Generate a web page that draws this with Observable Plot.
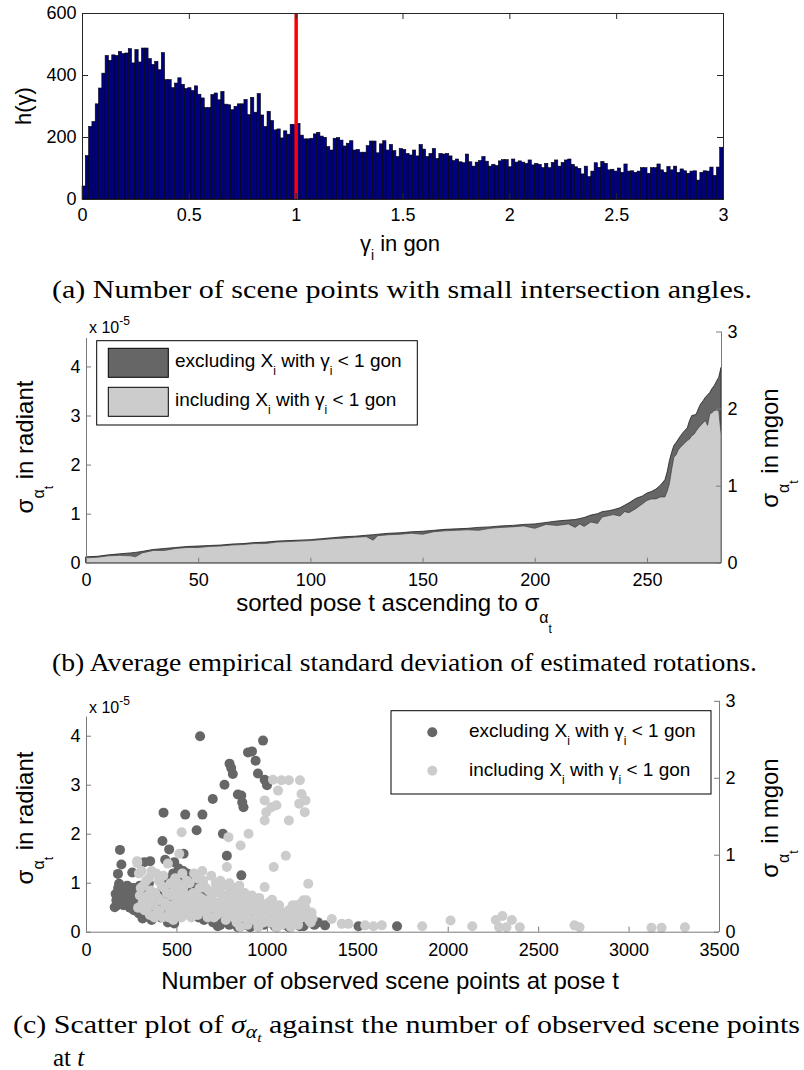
<!DOCTYPE html>
<html><head><meta charset="utf-8">
<script src="https://cdn.jsdelivr.net/npm/d3@7"></script>
<script src="https://cdn.jsdelivr.net/npm/@observablehq/plot@0.6"></script>
<style>
body{margin:0;background:#fff;}
#page{position:relative;width:804px;height:1070px;overflow:hidden;background:#fff;}
.panel{position:absolute;left:0;}
#overlay{position:absolute;left:0;top:0;pointer-events:none;}
text{white-space:pre;}
</style></head><body><div id="page"></div>
<script>
// ---------------- Panel (a): histogram of intersection angles ----------------
const histCounts = [
42,140,234,250,307,358,406,463,447,465,463,476,469,471,485,439,482,442,487,487,
453,434,444,417,472,385,385,359,374,391,370,356,359,350,365,338,326,295,295,337,
342,320,347,306,304,288,299,307,307,321,272,328,280,340,271,234,283,
253,223,226,197,220,209,241,240,244,206,194,194,196,210,215,203,199,169,158,196,
198,190,171,180,188,158,160,151,151,172,187,187,149,178,188,158,176,156,137,163,
160,147,142,158,139,176,161,137,147,163,131,147,145,147,139,124,129,120,
117,145,120,106,119,124,137,122,106,112,108,123,127,127,104,129,119,123,119,115,
126,110,115,112,101,115,101,118,126,106,118,126,129,112,104,99,81,106,72,90,
117,102,121,115,94,96,90,100,86,113,90,91,86,90,101,101,83,101,101,113,
94,86,105,94,106,86,97,91,83,90,91,61,86,91,90,103,76,103,167
];
const histDomain = [0, 3];
const gammaLimit = [1];
const aXTicks = [0, 0.5, 1, 1.5, 2, 2.5, 3];
const aYTicks = [0, 200, 400, 600];

// ---------------- Panel (b): sorted sigma per pose (units 1e-5 rad) ----------------
const bExcl = [[0,0.12],[5,0.13],[10,0.16],[15,0.18],[20,0.2],[22,0.21],[25,0.23],[30,0.27],[35,0.29],[40,0.31],
[45,0.33],[50,0.34],[55,0.35],[60,0.36],[65,0.38],[70,0.39],[75,0.41],[80,0.42],[85,0.44],[90,0.45],
[95,0.46],[100,0.47],[105,0.49],[110,0.51],[115,0.53],[120,0.54],[125,0.56],[128,0.57],[130,0.58],[135,0.6],
[140,0.61],[145,0.63],[150,0.64],[155,0.66],[160,0.68],[165,0.69],[170,0.7],[175,0.72],[180,0.73],[185,0.75],
[190,0.76],[195,0.78],[200,0.79],[205,0.82],[210,0.85],[215,0.87],[218,0.88],[220,0.9],[222,0.92],[225,0.97],
[228,1.0],[230,1.04],[233,1.06],[235,1.08],[238,1.12],[240,1.17],[242,1.22],[245,1.31],[248,1.36],[250,1.42],
[252,1.45],[254,1.5],[256,1.58],[258,1.69],[259,1.85],[260,2.08],[261,2.25],[262,2.39],[263,2.45],[264,2.52],
[265,2.59],[266,2.65],[267,2.7],[268,2.75],[269,2.9],[270,3.0],[271,3.01],[272,3.03],[273,3.15],[274,3.24],
[275,3.3],[276,3.37],[277,3.42],[278,3.47],[279,3.55],[280,3.61],[281,3.7],[282,3.78],[283,3.98]];
const bIncl = [[0,0.1],[5,0.11],[10,0.14],[15,0.15],[20,0.14],[22,0.12],[25,0.2],[30,0.25],[35,0.25],[40,0.29],
[45,0.31],[50,0.31],[55,0.33],[60,0.34],[65,0.36],[70,0.37],[75,0.39],[80,0.39],[85,0.42],[90,0.43],
[95,0.44],[100,0.45],[105,0.47],[110,0.49],[115,0.5],[120,0.52],[125,0.53],[128,0.46],[130,0.55],[135,0.57],
[140,0.58],[145,0.6],[150,0.58],[155,0.63],[160,0.65],[165,0.66],[170,0.67],[175,0.66],[180,0.7],[185,0.72],
[190,0.73],[195,0.75],[200,0.7],[205,0.78],[210,0.76],[215,0.79],[218,0.72],[220,0.79],[222,0.74],[225,0.83],
[228,0.8],[230,0.93],[233,0.96],[235,0.98],[238,0.95],[240,1.04],[242,1.02],[245,1.1],[248,1.2],[250,1.27],
[252,1.3],[254,1.3],[256,1.34],[258,1.34],[259,1.45],[260,1.61],[261,1.9],[262,2.15],[263,2.2],[264,2.3],
[265,2.36],[266,2.4],[267,2.45],[268,2.49],[269,2.52],[270,2.59],[271,2.62],[272,2.69],[273,2.75],[274,2.8],
[275,2.85],[276,2.9],[277,2.8],[278,3.03],[279,3.06],[280,3.1],[281,3.11],[282,3.1],[283,2.63]];
const bXDomain = [0, 283];
const bXTicks = [0, 50, 100, 150, 200, 250];
const radTicks = [0, 1, 2, 3, 4];
const mgonTicks = [0, 1, 2, 3];
const radPerMgon = Math.PI / 2; // 1 mgon expressed in units of 1e-5 rad
const bLeftAxisTop = 4.58;

// ---------------- Panel (c): scatter sigma vs number of observed points ----------------
const cExcl = [
[628,4.0],[976,3.91],[893,3.67],[915,3.69],[935,3.5],[948,3.24],[985,3.11],[998,3.0],[791,3.44],[800,3.35],
[809,3.23],[763,3.01],[837,2.81],[856,2.79],[861,2.65],[868,2.55],[698,2.72],[426,2.44],[546,2.4],[641,2.4],
[609,2.08],[754,2.01],[420,1.86],[457,1.69],[435,1.48],[485,1.43],[776,1.56],[856,1.16],[185,1.68],[193,1.38],
[174,1.19],[180,0.99],[161,0.78],[156,0.51],[253,1.22],[319,1.43],[352,1.45],[537,1.6],[559,1.19],[587,1.05],
[624,0.95],[319,0.31],[485,0.18],[726,0.12],[837,0.1],[1041,0.12],[1319,0.14],[1504,0.12],[1717,0.12],
[170,0.55],[175,0.9],[190,0.85],[195,0.65],[200,0.72],[210,0.6],[220,0.8],[230,0.7],[240,0.5],[250,0.9],
[262,0.45],[270,0.75],[280,0.55],[290,0.38],[300,0.65],[310,0.28],[320,0.85],[330,0.32],[340,0.6],[350,0.45],
[360,0.25],[380,0.4],[400,0.5],[410,0.3],[420,0.7],[430,1.0],[440,0.5],[450,0.2],[460,0.65],[470,0.35],
[480,1.2],[490,0.9],[510,1.3],[520,0.5],[530,0.4],[555,1.2],[560,0.8],[570,1.1],[580,0.6],[590,1.0],
[600,0.9],[610,0.5],[620,0.3],[630,0.7],[640,0.45],[650,0.25],[660,0.55],[670,0.35],[700,0.2],[720,0.4],
[740,0.15],[760,0.5],[780,0.3],[800,0.2],[820,0.6],[870,0.45],[900,0.35],[920,0.2],[950,0.3],[980,0.15],
[1000,0.45],[1020,0.3],[1050,0.1],[1080,0.2],[1100,0.15],[1150,0.25],[1180,0.12],[1220,0.2],[1260,0.15],
[165,0.65],[178,0.6],[185,0.7],[200,0.9],[205,0.55],[215,0.75],[225,0.95],[235,0.6],[245,0.8],[255,0.7],
[265,0.9],[275,0.65],[285,0.45],[295,0.95],[305,0.55],[325,0.4],[335,0.75],[345,1.0],[355,0.3],[365,0.55],
[375,0.45],[385,0.6],[395,0.35],[405,0.8],[415,1.05],[425,0.5],[445,0.95],[455,0.75],[465,1.1],[475,0.6],
[495,0.45],[505,1.15],[515,0.95],[525,1.0],[535,1.25],[545,0.7],[565,0.95],[575,0.85],[585,1.05],[595,0.75],
[605,0.95],[615,0.85],[625,0.6],[645,0.8],[665,0.5],[685,0.35],[705,0.45],[735,0.25],[755,0.35],[790,0.15],
[810,0.35],[840,0.1],[860,0.25],[880,0.15],[905,0.1],[930,0.4],[960,0.15],[990,0.35],[1010,0.2],[1060,0.3],
[1120,0.1],[1200,0.12],[1240,0.2],[1280,0.2]
];
const cIncl = [
[1031,3.11],[1078,3.1],[1119,3.1],[1180,3.1],[1059,2.89],[1189,2.82],[985,2.69],[985,2.28],[994,2.45],[1022,2.55],
[1050,2.59],[1176,2.62],[1211,2.69],[1207,2.45],[1119,2.28],[526,2.04],[785,1.94],[896,2.01],[852,1.77],[1102,1.56],
[1035,1.33],[985,0.92],[1226,0.99],[1026,0.66],[776,1.33],[513,1.6],[281,1.41],
[1356,0.27],[1411,0.17],[1448,0.17],[1541,0.14],[1587,0.12],[1633,0.14],[1856,0.12],[2013,0.24],[2133,0.12],
[2263,0.25],[2300,0.33],[2352,0.25],[2281,0.1],[2322,0.1],[2396,0.1],[2698,0.14],[2726,0.1],[3124,0.09],
[3180,0.09],[3309,0.1],
[280,1.45],[290,1.2],[300,0.9],[310,0.6],[320,0.45],[330,1.05],[340,0.75],[350,0.35],[360,1.25],[370,0.55],
[380,0.8],[390,0.4],[400,1.05],[410,0.65],[420,0.3],[430,0.9],[440,0.55],[450,1.4],[460,0.4],[470,0.75],
[480,0.25],[490,1.1],[500,0.6],[510,0.45],[520,0.85],[530,1.2],[540,0.35],[550,0.7],[560,0.5],[570,1.0],
[580,0.3],[590,0.8],[600,0.55],[610,1.1],[620,0.4],[630,0.7],[640,1.25],[650,0.45],[660,0.9],[670,0.3],
[680,0.65],[690,1.15],[700,0.5],[710,0.85],[720,0.35],[730,0.6],[740,1.05],[750,0.4],[760,0.75],[770,0.25],
[780,0.55],[790,1.0],[800,0.35],[810,0.65],[820,0.9],[830,0.2],[840,0.55],[850,0.75],[860,0.3],[870,0.5],
[880,0.65],[890,0.15],[900,0.45],[920,0.6],[940,0.3],[960,0.5],[980,0.2],[1000,0.4],[1020,0.55],[1040,0.25],
[1060,0.35],[1080,0.15],[1100,0.3],[1120,0.45],[1140,0.55],[1160,0.25],[1180,0.4],[1200,0.65],[1220,0.35],[1240,0.2],
[1250,0.28],[1130,0.1],[1050,0.1],[950,0.1],[850,0.1],
[285,0.5],[295,0.75],[305,1.25],[315,0.95],[325,0.65],[335,0.5],[345,1.1],[355,0.85],[365,0.6],[375,0.3],
[385,1.2],[395,0.7],[405,0.45],[415,0.95],[425,1.15],[435,0.6],[445,0.8],[455,0.3],[465,1.0],[475,0.55],
[485,0.85],[495,0.35],[505,1.0],[515,0.7],[525,0.3],[535,0.9],[545,0.55],[555,1.05],[565,0.75],[575,0.4],
[585,0.6],[595,1.2],[605,0.75],[615,0.35],[625,0.9],[635,0.55],[645,1.05],[655,0.65],[665,0.4],[675,0.85],
[685,0.55],[695,0.75],[705,0.3],[715,1.0],[725,0.5],[735,0.8],[745,0.6],[755,0.95],[765,0.45],[775,0.7],
[785,0.4],[795,0.85],[805,0.5],[815,0.3],[825,0.7],[835,0.45],[845,0.95],[855,0.6],[865,0.4],[875,0.8],
[885,0.35],[895,0.6],[905,0.25],[915,0.75],[925,0.45],[935,0.55],[945,0.2],[955,0.7],[965,0.35],[975,0.55],
[990,0.3],[1005,0.6],[1015,0.2],[1030,0.45],[1045,0.3],[1065,0.55],[1075,0.25],[1090,0.4],[1110,0.2],[1135,0.35],
[1150,0.45],[1170,0.15],[1190,0.3],[1210,0.5],[1230,0.25],[1245,0.4],[1190,0.6],[1215,0.65],[1160,0.55]
];
const cXDomain = [0, 3500];
const cXTicks = [0, 500, 1000, 1500, 2000, 2500, 3000, 3500];
const cLeftAxisTop = 4.39;

// ---------------- styling ----------------
const W = 804;
const sans = '"Liberation Sans", Arial, Helvetica, sans-serif';
const serif = '"Liberation Serif", "DejaVu Serif", serif';
const navy = "#000083";
const darkGray = "#666666";
const lightGray = "#cccccc";
const axisGray = "#7a7a7a";
const frameCol = "#262626";
const legendLabelsExcl = ["excluding X", "i", " with ", "\u03B3", "i", " < 1 gon"];
const legendLabelsIncl = ["including X", "i", " with ", "\u03B3", "i", " < 1 gon"];
const plain = d => String(d);

const page = document.getElementById("page");
function place(svg, top) {
  const d = document.createElement("div");
  d.className = "panel"; d.style.top = top + "px";
  d.appendChild(svg); page.appendChild(d);
}

// ---------- Panel A ----------
const aH = 265, aTop = 0, aM = {t: 13, b: 66, l: 82, r: 81};
const aPH = aH - aM.t - aM.b, aPW = W - aM.l - aM.r;
const binW = (histDomain[1] - histDomain[0]) / histCounts.length;
const bins = histCounts.map((c, i) => ({x1: histDomain[0] + i * binW, x2: histDomain[0] + (i + 1) * binW, count: c}));
const plotA = Plot.plot({
  width: W, height: aH, marginTop: aM.t, marginBottom: aM.b, marginLeft: aM.l, marginRight: aM.r,
  style: {fontFamily: sans, fontSize: "18px", color: "#000", background: "transparent"},
  x: {domain: histDomain}, y: {domain: [0, 600]},
  marks: [
    Plot.rectY(bins, {x1: "x1", x2: "x2", y1: 0, y2: "count", fill: navy, stroke: "#000", strokeWidth: 0.6, inset: 0}),
    Plot.ruleX(gammaLimit, {stroke: "#ff0000", strokeWidth: 3.5}),
    Plot.frame({stroke: frameCol}),
    Plot.tickX(aXTicks, {x: d => d, insetTop: aPH - 6, stroke: frameCol}),
    Plot.tickX(aXTicks, {x: d => d, insetBottom: aPH - 6, stroke: frameCol}),
    Plot.tickY(aYTicks, {y: d => d, insetRight: aPW - 6, stroke: frameCol}),
    Plot.tickY(aYTicks, {y: d => d, insetLeft: aPW - 6, stroke: frameCol}),
    Plot.axisX({ticks: aXTicks, tickSize: 0, tickPadding: 9, label: null, fontSize: 18, tickFormat: plain}),
    Plot.axisY({ticks: aYTicks, tickSize: 0, tickPadding: 6, label: null, fontSize: 18, tickFormat: plain})
  ]
});
place(plotA, aTop);

// ---------- Panel B ----------
const bTop = 305, bH = 340, bM = {t: 26.5, b: 82.3, l: 86, r: 83};
const bPH = bH - bM.t - bM.b, bPW = W - bM.l - bM.r;
const yMaxRad = 3 * radPerMgon;
const mgonPos = mgonTicks.map(m => m * radPerMgon);
const mgonFmt = d => String(Math.round(d / radPerMgon));
const plotB = Plot.plot({
  width: W, height: bH, marginTop: bM.t, marginBottom: bM.b, marginLeft: bM.l, marginRight: bM.r,
  style: {fontFamily: sans, fontSize: "18px", color: "#000", background: "transparent"},
  x: {domain: bXDomain}, y: {domain: [0, yMaxRad]},
  marks: [
    Plot.areaY(bExcl, {x: d => d[0], y: d => d[1], fill: darkGray, stroke: "#1e1e1e", strokeWidth: 0.8}),
    Plot.areaY(bIncl, {x: d => d[0], y: d => d[1], fill: lightGray, stroke: "#333", strokeWidth: 0.6}),
    Plot.ruleY([0], {stroke: axisGray}),
    Plot.ruleX([bXDomain[0]], {y1: 0, y2: bLeftAxisTop, stroke: axisGray}),
    Plot.ruleX([bXDomain[1]], {y1: 0, y2: yMaxRad, stroke: axisGray}),
    Plot.tickX(bXTicks, {x: d => d, insetTop: bPH - 5, stroke: axisGray}),
    Plot.tickY(radTicks, {y: d => d, insetRight: bPW - 5, stroke: axisGray}),
    Plot.tickY(mgonPos, {y: d => d, insetLeft: bPW - 5, stroke: axisGray}),
    Plot.axisX({ticks: bXTicks, tickSize: 0, tickPadding: 10, label: null, fontSize: 18, tickFormat: plain}),
    Plot.axisY({ticks: radTicks, tickSize: 0, tickPadding: 6, label: null, fontSize: 18, tickFormat: plain}),
    Plot.axisY({anchor: "right", ticks: mgonPos, tickFormat: mgonFmt, tickSize: 0, tickPadding: 6, label: null, fontSize: 18})
  ]
});
place(plotB, bTop);

// ---------- Panel C ----------
const cTop = 680, cH = 330, cM = {t: 20.8, b: 78.3, l: 86, r: 85};
const cPH = cH - cM.t - cM.b, cPW = W - cM.l - cM.r;
const plotC = Plot.plot({
  width: W, height: cH, marginTop: cM.t, marginBottom: cM.b, marginLeft: cM.l, marginRight: cM.r,
  style: {fontFamily: sans, fontSize: "18px", color: "#000", background: "transparent"},
  x: {domain: cXDomain}, y: {domain: [0, yMaxRad]},
  marks: [
    Plot.dot(cExcl, {x: d => d[0], y: d => d[1], r: 5, fill: darkGray}),
    Plot.dot(cIncl, {x: d => d[0], y: d => d[1], r: 5, fill: lightGray}),
    Plot.ruleY([0], {stroke: axisGray}),
    Plot.ruleX([cXDomain[0]], {y1: 0, y2: cLeftAxisTop, stroke: axisGray}),
    Plot.ruleX([cXDomain[1]], {y1: 0, y2: yMaxRad, stroke: axisGray}),
    Plot.tickX(cXTicks, {x: d => d, insetTop: cPH - 5, stroke: axisGray}),
    Plot.tickY(radTicks, {y: d => d, insetRight: cPW - 5, stroke: axisGray}),
    Plot.tickY(mgonPos, {y: d => d, insetLeft: cPW - 5, stroke: axisGray}),
    Plot.axisX({ticks: cXTicks, tickSize: 0, tickPadding: 11, label: null, fontSize: 18, tickFormat: plain}),
    Plot.axisY({ticks: radTicks, tickSize: 0, tickPadding: 6, label: null, fontSize: 18, tickFormat: plain}),
    Plot.axisY({anchor: "right", ticks: mgonPos, tickFormat: mgonFmt, tickSize: 0, tickPadding: 6, label: null, fontSize: 18})
  ]
});
place(plotC, cTop);

// ---------- overlay: labels, legends, captions ----------
const NS = "http://www.w3.org/2000/svg";
const ov = document.createElementNS(NS, "svg");
ov.setAttribute("id", "overlay"); ov.setAttribute("width", W); ov.setAttribute("height", 1070);
page.appendChild(ov);
function el(name, attrs, parent = ov) {
  const e = document.createElementNS(NS, name);
  for (const k in attrs) e.setAttribute(k, attrs[k]);
  parent.appendChild(e); return e;
}
// parts: [text, shift(px, + = down), fontSize, fontStyle]
function rich(x, y, parts, {size = 20, family = sans, anchor = "start", rotate = 0, textLength = null} = {}) {
  const t = el("text", {x, y, "font-size": size, "font-family": family, "text-anchor": anchor, fill: "#000"});
  if (rotate) t.setAttribute("transform", `rotate(${rotate} ${x} ${y})`);
  if (textLength) { t.setAttribute("textLength", textLength); t.setAttribute("lengthAdjust", "spacingAndGlyphs"); }
  let prev = 0;
  for (const [s, shift = 0, fs = size, st = null] of parts) {
    const sp = el("tspan", {dy: shift - prev, "font-size": fs}, t);
    if (st) sp.setAttribute("font-style", st);
    sp.textContent = s; prev = shift;
  }
  return t;
}
const sig = (size, s1, s2) => [["\u03C3", 0, size], ["\u03B1", s1, Math.round(size * 0.65)], ["t", s2, Math.round(size * 0.52)]];

// Panel A labels
rich(31, 106, [["h(\u03B3)", 0, 22]], {size: 22, anchor: "middle", rotate: -90});
rich(400, 251, [["\u03B3", 0, 22], ["i", 9, 14], [" in gon", 0, 22]], {size: 22, anchor: "middle"});

// Panel B labels
rich(89, 333, [["x 10", 0, 16], ["-5", -8, 12]], {size: 16});
rich(33, 447, [...sig(24, 11, 20), [" in radiant", 0, 24]], {size: 24, anchor: "middle", rotate: -90});
rich(778, 448, [...sig(24, 11, 20), [" in mgon", 0, 24]], {size: 24, anchor: "middle", rotate: -90});
rich(394, 611, [["sorted pose t ascending to ", 0, 24], ...sig(24, 12, 22)], {size: 24, anchor: "middle"});
// legend B
el("rect", {x: 96.7, y: 340.7, width: 320.6, height: 84.3, fill: "#fff", stroke: "#000", "stroke-width": 1});
el("rect", {x: 108.3, y: 348.3, width: 60, height: 29, fill: darkGray, stroke: "#000", "stroke-width": 1});
el("rect", {x: 108.3, y: 387.3, width: 60, height: 29, fill: lightGray, stroke: "#000", "stroke-width": 1});
function legendText(x, y, L) {
  rich(x, y, [[L[0], 0, 19], [L[1], 8, 12], [L[2], 0, 19], [L[3], 0, 19], [L[4], 8, 12], [L[5], 0, 19]], {size: 19});
}
legendText(175, 367, legendLabelsExcl);
legendText(175, 405.5, legendLabelsIncl);

// Panel C labels
rich(89, 713, [["x 10", 0, 16], ["-5", -8, 12]], {size: 16});
rich(33, 818, [...sig(24, 11, 20), [" in radiant", 0, 24]], {size: 24, anchor: "middle", rotate: -90});
rich(778, 818, [...sig(24, 11, 20), [" in mgon", 0, 24]], {size: 24, anchor: "middle", rotate: -90});
rich(390, 989, [["Number of observed scene points at pose t", 0, 24]], {size: 24, anchor: "middle"});
// legend C
el("rect", {x: 391, y: 710.7, width: 320, height: 83.3, fill: "#fff", stroke: "#000", "stroke-width": 1});
el("circle", {cx: 432.3, cy: 732.3, r: 5, fill: darkGray});
el("circle", {cx: 432.3, cy: 770.7, r: 5, fill: lightGray});
legendText(469, 737, legendLabelsExcl);
legendText(469, 776, legendLabelsIncl);

// Captions
rich(52, 298, [["(a) Number of scene points with small intersection angles.", 0, 25]], {size: 25, family: serif, textLength: 700});
rich(52, 671, [["(b) Average empirical standard deviation of estimated rotations.", 0, 25]], {size: 25, family: serif, textLength: 705});
rich(13, 1033, [["(c) Scatter plot of ", 0, 25], ["\u03C3", 0, 25, "italic"], ["\u03B1", 5, 18, "italic"], ["t", 9, 13, "italic"],
  [" against the number of observed scene points", 0, 25]], {size: 25, family: serif, textLength: 787});
rich(53, 1066, [["at ", 0, 25], ["t", 0, 25, "italic"]], {size: 25, family: serif});
</script></body></html>
